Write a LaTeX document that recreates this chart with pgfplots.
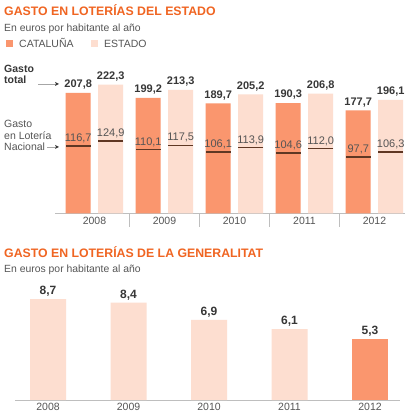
\documentclass[border=0pt]{standalone}
\usepackage{fontspec}
\setmainfont{Liberation Sans}
\usepackage{pgfplots}
\pgfplotsset{compat=1.18}
\definecolor{cat}{RGB}{250,150,110}
\definecolor{est}{RGB}{253,222,208}
\definecolor{titleor}{RGB}{240,101,34}
\definecolor{brownline}{RGB}{95,55,35}
\definecolor{txt}{RGB}{55,55,55}
\definecolor{sub}{RGB}{85,85,85}
\definecolor{axgray}{RGB}{190,190,190}
\newcommand\fs[1]{\fontsize{#1}{#1}\selectfont}
\pgfplotsset{
  /pgf/number format/.cd, fixed, fixed zerofill, precision=1, use comma, 1000 sep={}, assume math mode=true,
}
\begin{document}
\begin{tikzpicture}
\useasboundingbox[fill=white] (0pt,0pt) rectangle (414pt,-419pt);
% ---------- headings top
\node[anchor=base west, inner sep=0pt, text=titleor, font=\bfseries\fs{12.3}] at (4pt,-16pt) {GASTO EN LOTERÍAS DEL ESTADO};
\node[anchor=base west, inner sep=0pt, text=sub, font=\fs{10.4}] at (4pt,-32pt) {En euros por habitante al año};
\fill[cat] (6pt,-40pt) rectangle (13pt,-47pt);
\node[anchor=base west, inner sep=0pt, text=sub, font=\fs{10.5}] at (19pt,-47.5pt) {CATALUÑA};
\fill[est] (91pt,-40pt) rectangle (98pt,-47pt);
\node[anchor=base west, inner sep=0pt, text=sub, font=\fs{10.5}] at (104pt,-47.5pt) {ESTADO};
% annotations
\node[anchor=base west, inner sep=0pt, text=txt, font=\bfseries\fs{10.5}] at (4pt,-73pt) {Gasto};
\node[anchor=base west, inner sep=0pt, text=txt, font=\bfseries\fs{10.5}] at (4pt,-84pt) {total};
\draw[gray!70, line width=0.5pt] (38pt,-84pt) -- (56pt,-84pt);
\fill[black!80] (59pt,-84pt) -- (55pt,-82pt) -- (56pt,-84pt) -- (55pt,-86pt) -- cycle;
\node[anchor=base west, inner sep=0pt, text=sub, font=\fs{10.5}] at (4pt,-128pt) {Gasto};
\node[anchor=base west, inner sep=0pt, text=sub, font=\fs{10.5}] at (4pt,-140pt) {en Lotería};
\node[anchor=base west, inner sep=0pt, text=sub, font=\fs{10.5}] at (4pt,-151pt) {Nacional};
\draw[gray!70, line width=0.5pt] (47pt,-147pt) -- (56pt,-147pt);
\fill[black!80] (59pt,-147pt) -- (55pt,-145pt) -- (56pt,-147pt) -- (55pt,-149pt) -- cycle;
% ---------- top chart
\begin{axis}[
  at={(55pt,-213.5pt)}, anchor=south west,
  x=70pt, y=0.58pt,
  xmin=-0.564, xmax=4.436, ymin=0, ymax=235,
  axis x line=bottom, axis y line=none,
  axis line style={draw=axgray, -},
  xtick={0,1,2,3,4}, xticklabels={2008,2009,2010,2011,2012},
  major tick length=0pt, ytick=\empty,
  xticklabel style={font=\fs{10.5}, text=sub},
  clip=false,
]
\addplot[ybar, bar width=25pt, bar shift=0pt, fill=cat, draw=none,
  nodes near coords, every node near coord/.append style={font=\bfseries\fs{11}, text=txt}]
  coordinates {(-0.232,207.8) (0.768,199.2) (1.768,189.7) (2.768,190.3) (3.768,177.7)};
\addplot[ybar, bar width=25pt, bar shift=0pt, fill=est, draw=none,
  nodes near coords, every node near coord/.append style={font=\bfseries\fs{11}, text=txt}]
  coordinates {(0.232,222.3) (1.232,213.3) (2.232,205.2) (3.232,206.8) (4.232,196.1)};
\addplot[only marks, mark=-, mark size=12.5pt, mark options={line width=1.4pt, draw=brownline},
  nodes near coords, every node near coord/.append style={font=\fs{11}, text=sub, inner sep=2.3pt}]
  coordinates {(-0.232,116.7) (0.768,110.1) (1.768,106.1) (2.768,104.6) (3.768,97.7)
               (0.232,124.9) (1.232,117.5) (2.232,113.9) (3.232,112.0) (4.232,106.3)};
\foreach \s in {0.5,1.5,2.5,3.5}{
  \edef\tmp{\noexpand\draw[axgray, line width=0.5pt] (axis cs:\s,0) -- ++(0pt,-13pt);}\tmp
}
\end{axis}
% ---------- headings bottom
\node[anchor=base west, inner sep=0pt, text=titleor, font=\bfseries\fs{12.3}] at (4pt,-257pt) {GASTO EN LOTERÍAS DE LA GENERALITAT};
\node[anchor=base west, inner sep=0pt, text=sub, font=\fs{10.4}] at (4pt,-272pt) {En euros por habitante al año};
% ---------- bottom chart
\begin{axis}[
  at={(15pt,-400pt)}, anchor=south west,
  x=80.5pt, y=11.6pt,
  xmin=-0.41, xmax=4.37, ymin=0, ymax=10,
  axis x line=bottom, axis y line=none,
  axis line style={draw=axgray, -},
  xtick={0,1,2,3,4}, xticklabels={2008,2009,2010,2011,2012},
  major tick length=0pt, ytick=\empty,
  xticklabel style={font=\fs{10.5}, text=sub},
  clip=false,
]
\addplot[ybar, bar width=36pt, bar shift=0pt, fill=est, draw=none,
  nodes near coords, every node near coord/.append style={font=\bfseries\fs{12}, text=txt, inner sep=2.2pt}]
  coordinates {(0,8.7) (1,8.4) (2,6.9) (3,6.1)};
\addplot[ybar, bar width=36pt, bar shift=0pt, fill=cat, draw=none,
  nodes near coords, every node near coord/.append style={font=\bfseries\fs{12}, text=txt, inner sep=2.2pt}]
  coordinates {(4,5.3)};
\end{axis}
\end{tikzpicture}
\end{document}
